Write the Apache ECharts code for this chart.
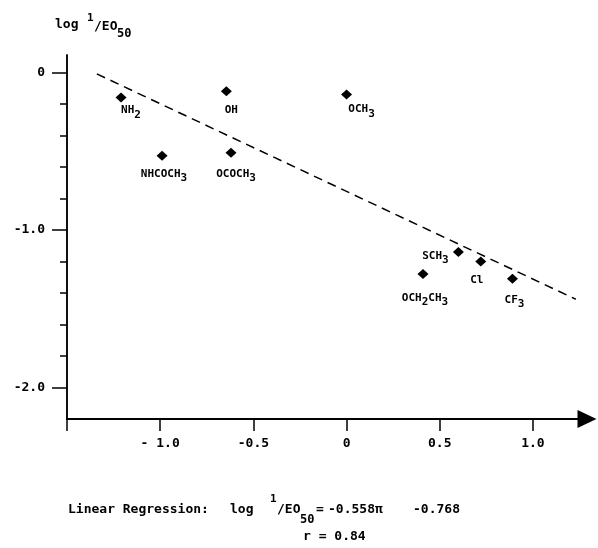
<!DOCTYPE html>
<html>
<head>
<meta charset="utf-8">
<script src="https://cdn.jsdelivr.net/npm/echarts@6/dist/echarts.min.js"></script>
<style>
  html, body { margin: 0; padding: 0; background: #fff; }
  #chart { width: 598px; height: 548px; }
</style>
</head>
<body>
<div id="chart"></div>
<script>
// substituents, pi values and log 1/EO50
const names = ["NH2", "OH", "OCH3", "NHCOCH3", "OCOCH3", "SCH3", "Cl", "OCH2CH3", "CF3"];
const piValues = [-1.21, -0.645, 0.0, -0.99, -0.62, 0.60, 0.72, 0.41, 0.89];
const logValues = [-0.16, -0.12, -0.14, -0.53, -0.51, -1.14, -1.20, -1.28, -1.31];

// regression line end points
const lineX = [-1.34, 1.23];
const lineY = [-0.01, -1.44];

const xTickValues = [-1.5, -1, -0.5, 0, 0.5, 1];
const xLabelValues = [-1, -0.5, 0, 0.5, 1];
const xLabelTexts = ["- 1.0", "-0.5", "0", "0.5", "1.0"];
const yLabelValues = [-2, -1, 0];
const yLabelTexts = ["-2.0", "-1.0", "0"];
const yMinorValues = [-1.8, -1.6, -1.4, -1.2, -0.8, -0.6, -0.4, -0.2];

const FONT = '"DejaVu Sans Mono", monospace';
const INK = "#000";

// label placement around each point: [dx, dy] of label centre
const labelOffsets = {
  NH2: [10, 13], OH: [5, 19], OCH3: [15, 15], NHCOCH3: [2, 18], OCOCH3: [5, 21],
  SCH3: [-23, 4], Cl: [-4, 19], OCH2CH3: [2, 24], CF3: [2, 21]
};

const chart = echarts.init(document.getElementById("chart"));

function txt(str, x, y, size) {
  return {
    type: "text", x: x, y: y, silent: true,
    style: { text: str, font: "bold " + size + "px " + FONT, fill: INK, verticalAlign: "middle" }
  };
}

const pointData = names.map(function (n, i) {
  return {
    name: n,
    value: [piValues[i], logValues[i]],
    label: { offset: labelOffsets[n] }
  };
});

const lineData = lineX.map(function (x, i) { return [x, lineY[i]]; });

const axisFont = { fontFamily: FONT, fontWeight: "bold", fontSize: 13, color: INK };

chart.setOption({
  animation: false,
  grid: { left: 67, right: 11, top: 55, bottom: 129 },
  xAxis: {
    type: "value", min: -1.5, max: 1.29,
    splitLine: { show: false },
    axisLine: { onZero: false, lineStyle: { color: INK, width: 2 }, symbol: ["none", "triangle"], symbolSize: [18, 19] },
    axisTick: { length: 12, customValues: xTickValues, lineStyle: { color: INK, width: 1.5 } },
    axisLabel: Object.assign({}, axisFont, {
      margin: 18,
      customValues: xLabelValues,
      formatter: function (v) { return xLabelTexts[xLabelValues.indexOf(v)]; }
    })
  },
  yAxis: [{
    type: "value", min: -2.2, max: 0.11,
    splitLine: { show: false },
    axisLine: { onZero: false, lineStyle: { color: INK, width: 1.5 } },
    axisTick: { length: 15, customValues: yLabelValues, lineStyle: { color: INK, width: 1.5 } },
    axisLabel: Object.assign({}, axisFont, {
      margin: 22,
      customValues: yLabelValues,
      formatter: function (v) { return yLabelTexts[yLabelValues.indexOf(v)]; }
    })
  }, {
    type: "value", min: -2.2, max: 0.11, position: "left",
    splitLine: { show: false },
    axisLine: { show: true, onZero: false, lineStyle: { color: INK, width: 1.5 } },
    axisTick: { length: 7, customValues: yMinorValues, lineStyle: { color: INK, width: 1.5 } },
    axisLabel: { show: false }
  }],
  series: [{
    type: "line",
    data: lineData,
    showSymbol: false,
    silent: true,
    lineStyle: { color: INK, width: 1.5, type: [9, 6] }
  }, {
    type: "scatter",
    data: pointData,
    symbol: "diamond",
    symbolSize: [11, 10],
    itemStyle: { color: INK, opacity: 1 },
    label: {
      show: true,
      position: "inside",
      align: "center",
      verticalAlign: "middle",
      fontFamily: FONT, fontWeight: "bold", fontSize: 11, color: INK,
      formatter: function (p) { return p.name.replace(/(\d)/g, "{s|$1}"); },
      rich: {
        s: { fontFamily: FONT, fontWeight: "bold", fontSize: 11, color: INK, padding: [9, 0, 0, 0] }
      }
    }
  }],
  graphic: [
    txt("log", 55, 25, 13), txt("1", 87, 18, 11), txt("/EO", 94, 27, 13), txt("50", 117, 34, 12),
    txt("Linear Regression:", 68, 510, 13),
    txt("log", 230, 510, 13), txt("1", 270, 499, 11), txt("/EO", 277, 510, 13), txt("50", 300, 520, 12),
    txt("=", 316, 510, 13), txt("-0.558\u03c0", 328, 510, 13), txt("-0.768", 413, 510, 13),
    txt("r = 0.84", 303, 537, 13)
  ]
});
</script>
</body>
</html>
